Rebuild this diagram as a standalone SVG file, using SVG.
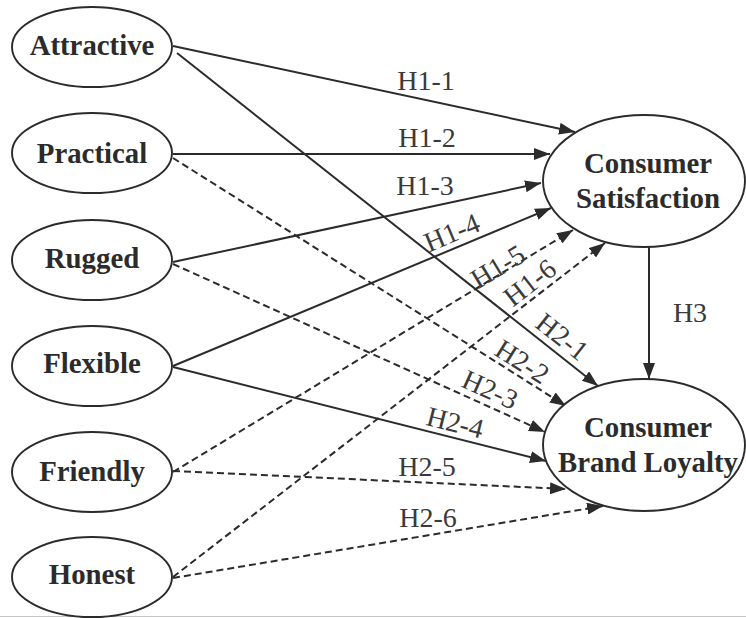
<svg xmlns="http://www.w3.org/2000/svg" width="746" height="618" viewBox="0 0 746 618">
<defs>
<style>
.node ellipse{fill:#fff;stroke:#2b2b2b;stroke-width:1.9}
.node text{font-family:"Liberation Serif","Times New Roman",serif;font-weight:bold;font-size:28.8px;fill:#2b2b2b;text-anchor:middle}
.edge{fill:none;stroke:#2b2b2b;stroke-width:2;marker-end:url(#arr)}
.dash{stroke-dasharray:7 4}
.lbl{font-family:"Liberation Serif","Times New Roman",serif;font-size:28px;fill:#3a3a3a;text-anchor:middle}
</style>
<marker id="arr" viewBox="0 0 16 12" refX="16" refY="6" markerWidth="16" markerHeight="12" markerUnits="userSpaceOnUse" orient="auto">
<path d="M0,0 L16,6 L0,12 z" fill="#2b2b2b"/>
</marker>
</defs>
<rect width="746" height="618" fill="#fff"/>
<line x1="0" y1="616.5" x2="746" y2="616.5" stroke="#c8c8c8" stroke-width="1"/>

<g id="connectors">
<line class="edge" x1="173" y1="46" x2="575" y2="132"/>
<line class="edge" x1="173" y1="154" x2="550" y2="154"/>
<line class="edge" x1="173" y1="262" x2="541" y2="183"/>
<line class="edge" x1="173" y1="366" x2="551" y2="208"/>
<line class="edge dash" x1="173" y1="472" x2="573" y2="230"/>
<line class="edge dash" x1="173" y1="577" x2="605" y2="243"/>
<line class="edge" x1="177" y1="53" x2="598" y2="386"/>
<line class="edge dash" x1="173" y1="158" x2="566" y2="406"/>
<line class="edge dash" x1="173" y1="264" x2="545" y2="432"/>
<line class="edge" x1="173" y1="367" x2="546" y2="461"/>
<line class="edge dash" x1="173" y1="471" x2="566" y2="489"/>
<line class="edge dash" x1="173" y1="578" x2="603" y2="506"/>
<line class="edge" x1="649" y1="247" x2="649" y2="379"/>
</g>

<g id="labels">
<text class="lbl" x="426" y="90">H1-1</text>
<text class="lbl" x="427" y="147">H1-2</text>
<text class="lbl" x="425" y="195">H1-3</text>
<text class="lbl" transform="translate(452,233) rotate(-22.7)" y="9">H1-4</text>
<text class="lbl" transform="translate(498,267) rotate(-31.2)" y="9">H1-5</text>
<text class="lbl" transform="translate(530,283) rotate(-37.7)" y="9">H1-6</text>
<text class="lbl" transform="translate(562,337) rotate(38.3)" y="9">H2-1</text>
<text class="lbl" transform="translate(522,362) rotate(32.3)" y="9">H2-2</text>
<text class="lbl" transform="translate(490,390) rotate(24.3)" y="9">H2-3</text>
<text class="lbl" transform="translate(455,423) rotate(14.1)" y="9">H2-4</text>
<text class="lbl" x="427" y="476">H2-5</text>
<text class="lbl" x="428" y="527">H2-6</text>
<text class="lbl" x="690" y="322">H3</text>
</g>

<g id="attractive" class="node"><ellipse cx="92" cy="47" rx="80" ry="40"/><text x="92" y="55">Attractive</text></g>
<g id="practical" class="node"><ellipse cx="92" cy="153" rx="80" ry="40"/><text x="92" y="163">Practical</text></g>
<g id="rugged" class="node"><ellipse cx="92" cy="260" rx="80" ry="40"/><text x="92" y="268">Rugged</text></g>
<g id="flexible" class="node"><ellipse cx="92" cy="366" rx="80" ry="40"/><text x="92" y="373">Flexible</text></g>
<g id="friendly" class="node"><ellipse cx="92" cy="472" rx="80" ry="40"/><text x="92" y="481">Friendly</text></g>
<g id="honest" class="node"><ellipse cx="92" cy="577" rx="80" ry="40"/><text x="92" y="584">Honest</text></g>

<g id="satisfaction" class="node"><ellipse cx="644" cy="181" rx="101" ry="66"/><text x="648" y="173">Consumer</text><text x="648" y="208">Satisfaction</text></g>
<g id="loyalty" class="node"><ellipse cx="644" cy="445" rx="101" ry="66"/><text x="648" y="437">Consumer</text><text x="648" y="472">Brand Loyalty</text></g>
</svg>
